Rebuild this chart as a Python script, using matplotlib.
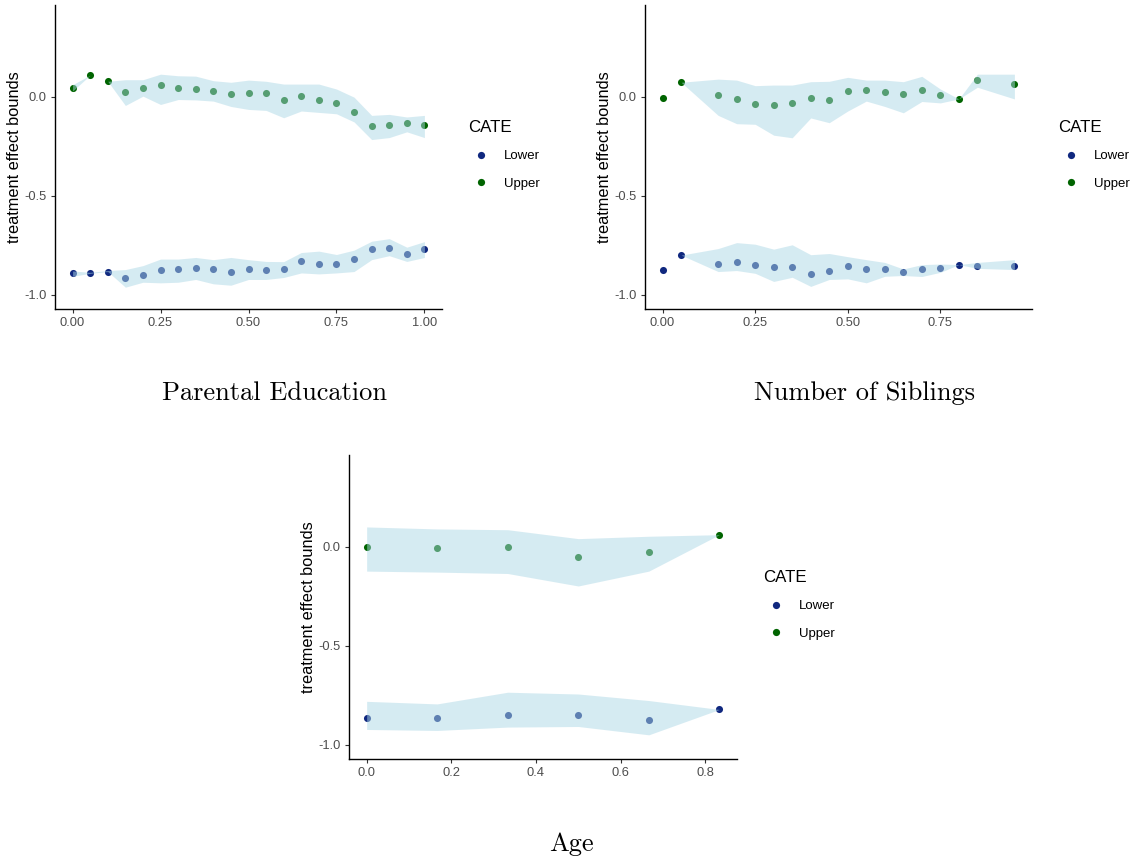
import numpy as np
import matplotlib
matplotlib.use("Agg")
import matplotlib.pyplot as plt
from matplotlib.lines import Line2D

plt.rcParams['font.family'] = ['Liberation Sans', 'DejaVu Sans']

# --- Parental Education ---
pe_x = [0, 0.05, 0.1, 0.15, 0.2, 0.25, 0.3, 0.35, 0.4, 0.45, 0.5,
        0.55, 0.6, 0.65, 0.7, 0.75, 0.8, 0.85, 0.9, 0.95, 1.0]
pe_upper = [0.043, 0.108, 0.077, 0.025, 0.045, 0.057, 0.043, 0.038, 0.027, 0.012, 0.017,
            0.017, -0.018, 0.002, -0.017, -0.032, -0.08, -0.15, -0.142, -0.133, -0.142]
pe_upper_hi = [0.06, 0.108, 0.077, 0.085, 0.085, 0.113, 0.105, 0.103, 0.08, 0.072, 0.083,
               0.077, 0.063, 0.063, 0.063, 0.038, -0.003, -0.095, -0.09, -0.103, -0.095]
pe_upper_lo = [0.028, 0.108, 0.077, -0.045, 0.002, -0.04, -0.015, -0.017, -0.023, -0.05, -0.065,
               -0.07, -0.107, -0.073, -0.08, -0.087, -0.128, -0.217, -0.207, -0.178, -0.207]
pe_lower = [-0.892, -0.892, -0.883, -0.917, -0.898, -0.873, -0.87, -0.863, -0.872, -0.887, -0.872,
            -0.877, -0.87, -0.832, -0.843, -0.845, -0.818, -0.77, -0.762, -0.792, -0.767]
pe_lower_hi = [-0.88, -0.887, -0.878, -0.873, -0.853, -0.82, -0.82, -0.812, -0.823, -0.812, -0.823,
               -0.832, -0.833, -0.787, -0.78, -0.797, -0.775, -0.73, -0.717, -0.76, -0.732]
pe_lower_lo = [-0.907, -0.892, -0.883, -0.962, -0.937, -0.94, -0.937, -0.923, -0.945, -0.952, -0.923,
               -0.923, -0.913, -0.89, -0.895, -0.89, -0.883, -0.823, -0.803, -0.832, -0.812]

# --- Number of Siblings ---
ns_x = [0, 0.05, 0.15, 0.2, 0.25, 0.3, 0.35, 0.4, 0.45, 0.5,
        0.55, 0.6, 0.65, 0.7, 0.75, 0.8, 0.85, 0.95]
ns_upper = [-0.007, 0.072, 0.008, -0.012, -0.037, -0.042, -0.035, -0.007, -0.015, 0.027,
            0.035, 0.022, 0.015, 0.033, 0.007, -0.012, 0.082, 0.062]
ns_upper_hi = [np.nan, 0.072, 0.088, 0.083, 0.055, 0.058, 0.058, 0.075, 0.077, 0.097,
               0.083, 0.083, 0.075, 0.102, 0.038, -0.012, 0.113, 0.113]
ns_upper_lo = [np.nan, 0.072, -0.095, -0.137, -0.14, -0.195, -0.208, -0.108, -0.132, -0.073,
               -0.023, -0.05, -0.082, -0.025, -0.032, -0.012, 0.047, -0.012]
ns_lower = [-0.875, -0.8, -0.845, -0.833, -0.848, -0.86, -0.86, -0.895, -0.882, -0.853,
            -0.872, -0.872, -0.887, -0.872, -0.865, -0.848, -0.853, -0.853]
ns_lower_hi = [np.nan, -0.8, -0.767, -0.737, -0.745, -0.77, -0.748, -0.798, -0.792, -0.808,
               -0.823, -0.837, -0.87, -0.848, -0.845, -0.848, -0.837, -0.823]
ns_lower_lo = [np.nan, -0.8, -0.883, -0.878, -0.892, -0.933, -0.912, -0.958, -0.923, -0.92,
               -0.94, -0.907, -0.903, -0.908, -0.887, -0.848, -0.867, -0.873]

# --- Age ---
age_x = [0, 1 / 6, 2 / 6, 3 / 6, 4 / 6, 5 / 6]
age_upper = [-0.003, -0.007, -0.002, -0.052, -0.027, 0.06]
age_upper_hi = [0.099, 0.089, 0.085, 0.04, 0.052, 0.06]
age_upper_lo = [-0.124, -0.129, -0.136, -0.199, -0.124, 0.06]
age_lower = [-0.864, -0.866, -0.848, -0.851, -0.873, -0.822]
age_lower_hi = [-0.781, -0.794, -0.735, -0.744, -0.777, -0.822]
age_lower_lo = [-0.923, -0.928, -0.911, -0.908, -0.95, -0.822]

titles = ["Parental Education", "Number of Siblings", "Age"]
legend_labels = ["Lower", "Upper"]

col_lower = "#10287f"
col_upper = "#006400"
col_band = "#ADD8E6"
W, H = 1132, 859

fig = plt.figure(figsize=(W / 100, H / 100), dpi=100)


def make_ax(left, top, right, bottom):
    return fig.add_axes([left / W, 1 - bottom / H, (right - left) / W, (bottom - top) / H])


def panel(ax, x, lo, lo_hi, lo_lo, up, up_hi, up_lo, xticks, xlabels):
    ax.scatter(x, lo, s=26, color=col_lower, linewidths=0, zorder=2)
    ax.scatter(x, up, s=26, color=col_upper, linewidths=0, zorder=2)
    # ribbons on top of the points, like the ggplot layer order
    ax.fill_between(x, lo_lo, lo_hi, color=col_band, alpha=0.5, linewidth=0, zorder=3)
    ax.fill_between(x, up_lo, up_hi, color=col_band, alpha=0.5, linewidth=0, zorder=3)
    rng = max(x) - min(x)
    ax.set_xlim(min(x) - 0.05 * rng, max(x) + 0.05 * rng)
    ax.set_ylim(-1.072, 0.462)
    ax.set_yticks([-1.0, -0.5, 0.0])
    ax.set_yticklabels(["-1.0", "-0.5", "0.0"])
    ax.set_xticks(xticks)
    ax.set_xticklabels(xlabels)
    for s in ["top", "right"]:
        ax.spines[s].set_visible(False)
    for s in ["left", "bottom"]:
        ax.spines[s].set_linewidth(1.0)
        ax.spines[s].set_color("black")
    ax.tick_params(length=3, width=0.8, color="#333333", labelcolor="#4D4D4D",
                   labelsize=9.3, pad=3)
    ax.set_ylabel("treatment effect bounds", fontsize=11.8, color="black")
    ax.yaxis.set_label_coords(-0.086, 0.5)
    handles = [Line2D([], [], marker="o", linestyle="", markersize=5.2,
                      markerfacecolor=c, markeredgewidth=0)
               for c in (col_lower, col_upper)]
    leg = ax.legend(handles, legend_labels, title="CATE", loc="upper left",
                    bbox_to_anchor=(1.067, 0.622), frameon=False, fontsize=9.5,
                    title_fontsize=12.2, handlelength=1.95, handletextpad=0.75,
                    labelspacing=1.15, borderpad=0, borderaxespad=0, alignment="left")
    leg._legend_box.sep = 11


ax1 = make_ax(55, 5, 442, 309)
panel(ax1, pe_x, pe_lower, pe_lower_hi, pe_lower_lo, pe_upper, pe_upper_hi, pe_upper_lo,
      [0, 0.25, 0.5, 0.75, 1.0], ["0.00", "0.25", "0.50", "0.75", "1.00"])
ax2 = make_ax(645, 5, 1032, 309)
panel(ax2, ns_x, ns_lower, ns_lower_hi, ns_lower_lo, ns_upper, ns_upper_hi, ns_upper_lo,
      [0, 0.25, 0.5, 0.75], ["0.00", "0.25", "0.50", "0.75"])
ax3 = make_ax(349, 455, 737, 759)
panel(ax3, age_x, age_lower, age_lower_hi, age_lower_lo, age_upper, age_upper_hi, age_upper_lo,
      [0, 0.2, 0.4, 0.6, 0.8], ["0.0", "0.2", "0.4", "0.6", "0.8"])

for t, (cx, cy) in zip(titles, [(275, 393), (865, 393), (571, 844)]):
    fig.text(cx / W, 1 - cy / H, t, ha="center", va="center", fontsize=19, family="cmr10")

fig.savefig("out.png", dpi=100)
